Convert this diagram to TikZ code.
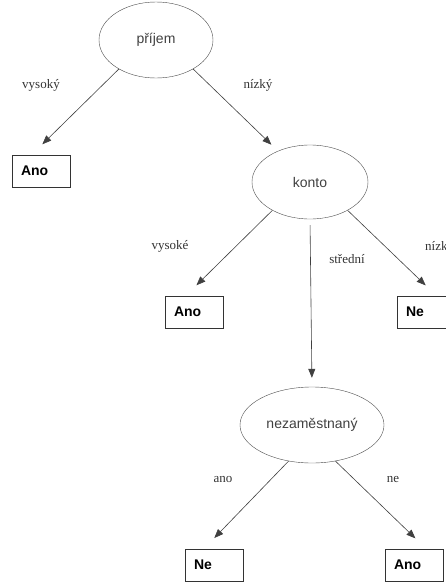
\documentclass[tikz,border=0pt]{standalone}
\usepackage{fontspec}
\setmainfont{Liberation Serif}
\setsansfont{Liberation Sans}
\usetikzlibrary{shapes.geometric,arrows.meta}

\tikzset{
  attr/.style={draw=black!70, ellipse, inner sep=0pt, font=\sffamily\fontsize{14}{16}\selectfont, text=black!75},
  leaf/.style={draw=black!80, rectangle, text width=40pt, align=left, inner xsep=9pt, inner ysep=0pt, minimum height=32pt, font=\sffamily\bfseries\fontsize{14}{16}\selectfont},
  edge/.style={draw=black!75, line width=0.6pt, -{Triangle[length=9pt,width=7pt]}, shorten >=15pt},
  val/.style={font=\fontsize{13}{15}\selectfont, text=black!80, inner sep=0pt}
}

\begin{document}
\begin{tikzpicture}[x=1pt,y=-1pt]
    \useasboundingbox (0,0) rectangle (446,582);

    \node (prijem) at (156,40) [attr, minimum width=114pt, minimum height=76pt] {příjem};
    \node (ano1) at (41,171) [leaf] {Ano};
    \node (konto) at (310,182) [attr, minimum width=116pt, minimum height=74pt] {konto};
    \node (ano2) at (194,312) [leaf] {Ano};
    \node (ne1) at (426,312) [leaf] {Ne};
    \node (nezam) at (312,425) [attr, minimum width=144pt, minimum height=76pt] {nezaměstnaný};
    \node (ne2) at (214,565) [leaf] {Ne};
    \node (ano3) at (414,565) [leaf] {Ano};

    \node (l1) at (41,85) [val] {vysoký};
    \node (l2) at (258,85) [val] {nízký};
    \node (l3) at (170,246) [val] {vysoké};
    \node (l4) at (347,259) [val] {střední};
    \node (l5) at (425,246) [val, anchor=west] {nízké};
    \node (l6) at (223,479) [val] {ano};
    \node (l7) at (393,479) [val] {ne};

    \draw[edge] (prijem.218) -- (ano1.120);
    \draw[edge, shorten >=9pt] (prijem.322) -- (konto);
    \draw[edge] (konto.217) -- (ano2.117);
    \draw[edge] (konto.323) -- (ne1.57);
    \draw[edge, shorten <=6pt, shorten >=9pt] (konto.south) -- (nezam.north);
    \draw[edge] (nezam.237) -- (ne2.122);
    \draw[edge] (nezam.303) -- (ano3.53);
\end{tikzpicture}
\end{document}
